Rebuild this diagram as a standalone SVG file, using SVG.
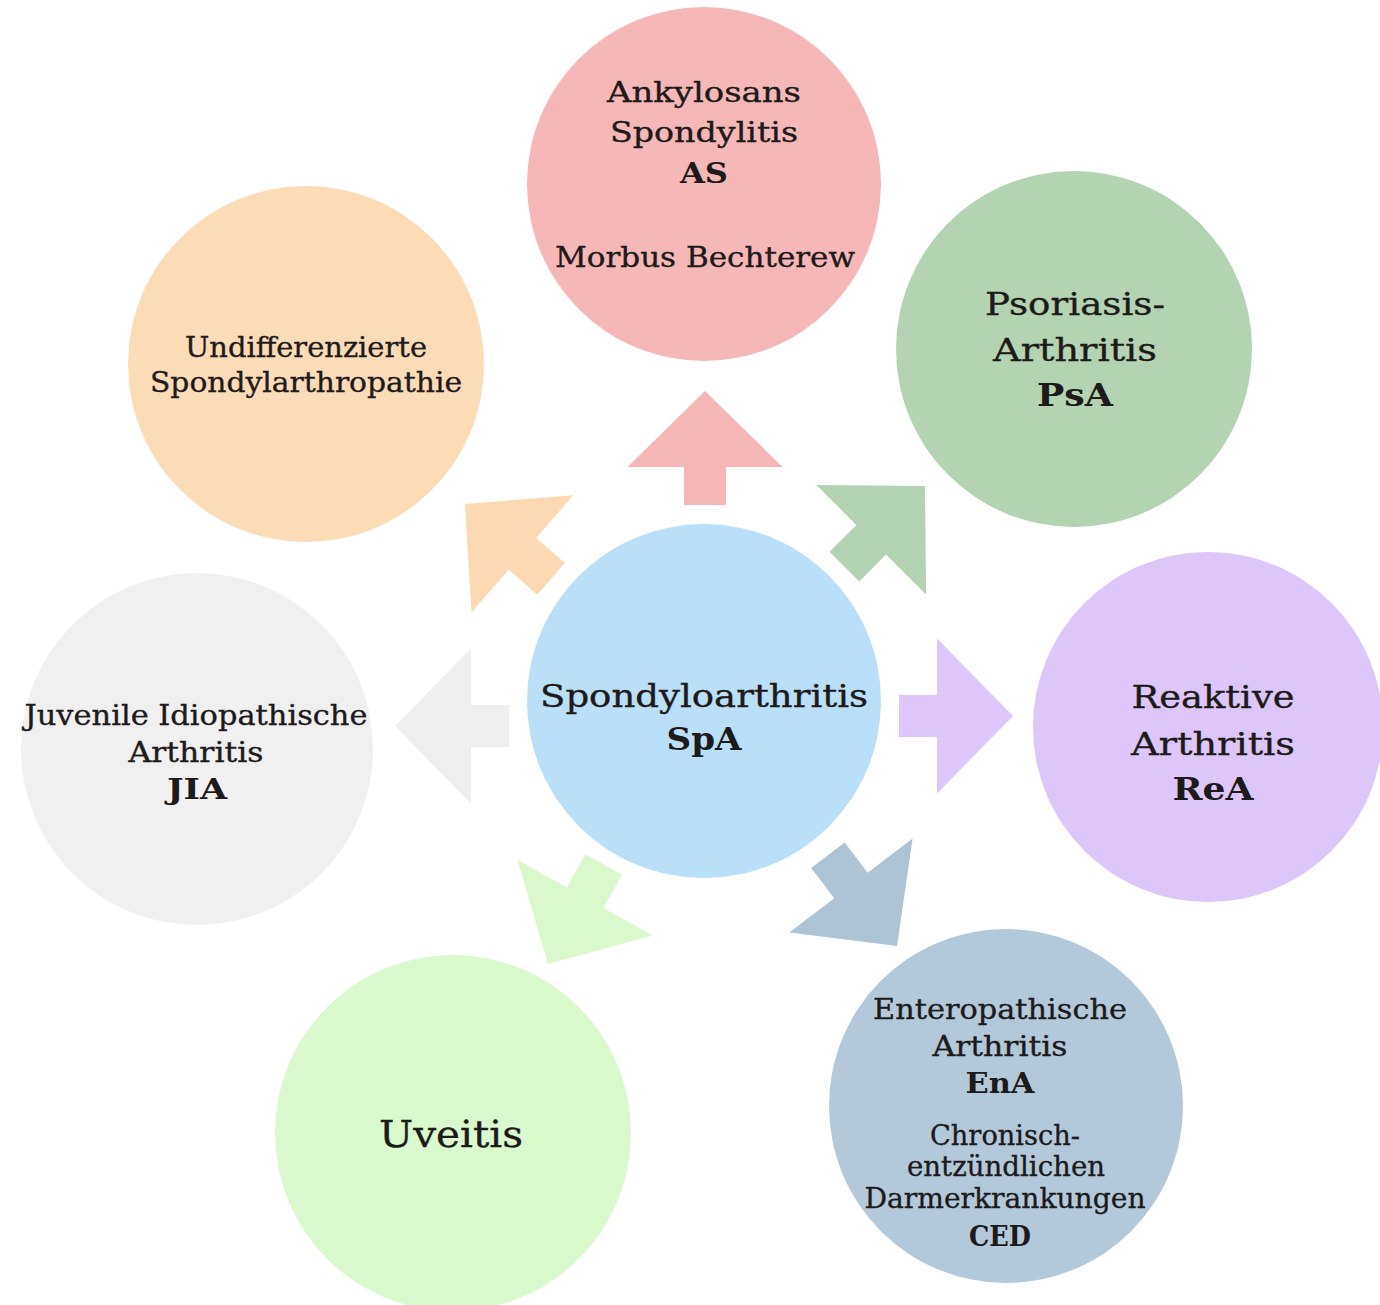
<svg xmlns="http://www.w3.org/2000/svg" width="1380" height="1305" viewBox="0 0 1380 1305">
<defs>
<style>
text{font-family:"DejaVu Serif","Liberation Serif",serif;fill:#1e1a1a;text-anchor:middle;stroke:#1e1a1a;stroke-width:0.35px}
.s{font-size:28px}
.m{font-size:32px}
.l{font-size:38px}
.b{font-weight:bold;stroke-width:0}
</style>
<path id="arr" d="M0,0 L-76,-77.5 L-76,-21 L-114,-21 L-114,21 L-76,21 L-76,77.5 Z"/>
</defs>
<rect width="1380" height="1305" fill="#ffffff"/>
<g id="connectors">
<use href="#arr" fill="#f4b6b6" transform="translate(705,391) rotate(-90)"/>
<use href="#arr" fill="#b3d2b3" transform="translate(925,486) rotate(-45)"/>
<use href="#arr" fill="#dcc6fa" transform="translate(1013,716)"/>
<use href="#arr" fill="#aec3d4" transform="translate(897,946) rotate(52.7)"/>
<use href="#arr" fill="#daf8cc" transform="translate(548,964) rotate(119.2)"/>
<use href="#arr" fill="#efefef" transform="translate(395,726) rotate(180)"/>
<use href="#arr" fill="#fcd9b2" transform="translate(465,504) rotate(221)"/>
</g>
<g id="spa">
<circle cx="704" cy="701" r="177" fill="#b9dff9"/>
<text class="m" x="704" y="707" textLength="328" lengthAdjust="spacingAndGlyphs">Spondyloarthritis</text>
<text class="m b" x="704" y="750" textLength="75" lengthAdjust="spacingAndGlyphs">SpA</text>
</g>
<g id="as">
<circle cx="704" cy="184" r="177" fill="#f5b7b7"/>
<text class="s" x="704" y="102" textLength="194" lengthAdjust="spacingAndGlyphs">Ankylosans</text>
<text class="s" x="704" y="142" textLength="188" lengthAdjust="spacingAndGlyphs">Spondylitis</text>
<text class="s b" x="704" y="183" textLength="48" lengthAdjust="spacingAndGlyphs">AS</text>
<text class="s" x="705" y="267" textLength="300" lengthAdjust="spacingAndGlyphs">Morbus Bechterew</text>
</g>
<g id="psa">
<circle cx="1074" cy="349" r="178" fill="#b3d3b3"/>
<text class="m" x="1075" y="315" textLength="180" lengthAdjust="spacingAndGlyphs">Psoriasis-</text>
<text class="m" x="1075" y="361" textLength="164" lengthAdjust="spacingAndGlyphs">Arthritis</text>
<text class="m b" x="1075" y="406" textLength="76" lengthAdjust="spacingAndGlyphs">PsA</text>
</g>
<g id="rea">
<circle cx="1208" cy="727" r="175" fill="#dcc6fa"/>
<text class="m" x="1213" y="708" textLength="163" lengthAdjust="spacingAndGlyphs">Reaktive</text>
<text class="m" x="1213" y="755" textLength="164" lengthAdjust="spacingAndGlyphs">Arthritis</text>
<text class="m b" x="1213" y="800" textLength="81" lengthAdjust="spacingAndGlyphs">ReA</text>
</g>
<g id="ena">
<circle cx="1006" cy="1106" r="177" fill="#b3c9da"/>
<text class="s" x="1000" y="1019" textLength="254" lengthAdjust="spacingAndGlyphs">Enteropathische</text>
<text class="s" x="1000" y="1056" textLength="135" lengthAdjust="spacingAndGlyphs">Arthritis</text>
<text class="s b" x="1000" y="1093" textLength="69" lengthAdjust="spacingAndGlyphs">EnA</text>
<text class="s" x="1005" y="1145" textLength="150" lengthAdjust="spacingAndGlyphs">Chronisch-</text>
<text class="s" x="1006" y="1176" textLength="198" lengthAdjust="spacingAndGlyphs">entzündlichen</text>
<text class="s" x="1005" y="1208" textLength="281" lengthAdjust="spacingAndGlyphs">Darmerkrankungen</text>
<text class="s b" x="1000" y="1246" textLength="62" lengthAdjust="spacingAndGlyphs">CED</text>
</g>
<g id="uveitis">
<circle cx="453" cy="1133" r="178" fill="#daf9cd"/>
<text class="l" x="451" y="1147" textLength="144" lengthAdjust="spacingAndGlyphs">Uveitis</text>
</g>
<g id="jia">
<circle cx="197" cy="749" r="176" fill="#f0f0f0"/>
<text class="s" x="196" y="725" textLength="343" lengthAdjust="spacingAndGlyphs">Juvenile Idiopathische</text>
<text class="s" x="196" y="762" textLength="135" lengthAdjust="spacingAndGlyphs">Arthritis</text>
<text class="s b" x="197" y="799" textLength="60" lengthAdjust="spacingAndGlyphs">JIA</text>
</g>
<g id="undiff">
<circle cx="306" cy="364" r="178" fill="#fcdbb7"/>
<text class="s" x="306" y="357" textLength="242" lengthAdjust="spacingAndGlyphs">Undifferenzierte</text>
<text class="s" x="306" y="392" textLength="312" lengthAdjust="spacingAndGlyphs">Spondylarthropathie</text>
</g>
</svg>
